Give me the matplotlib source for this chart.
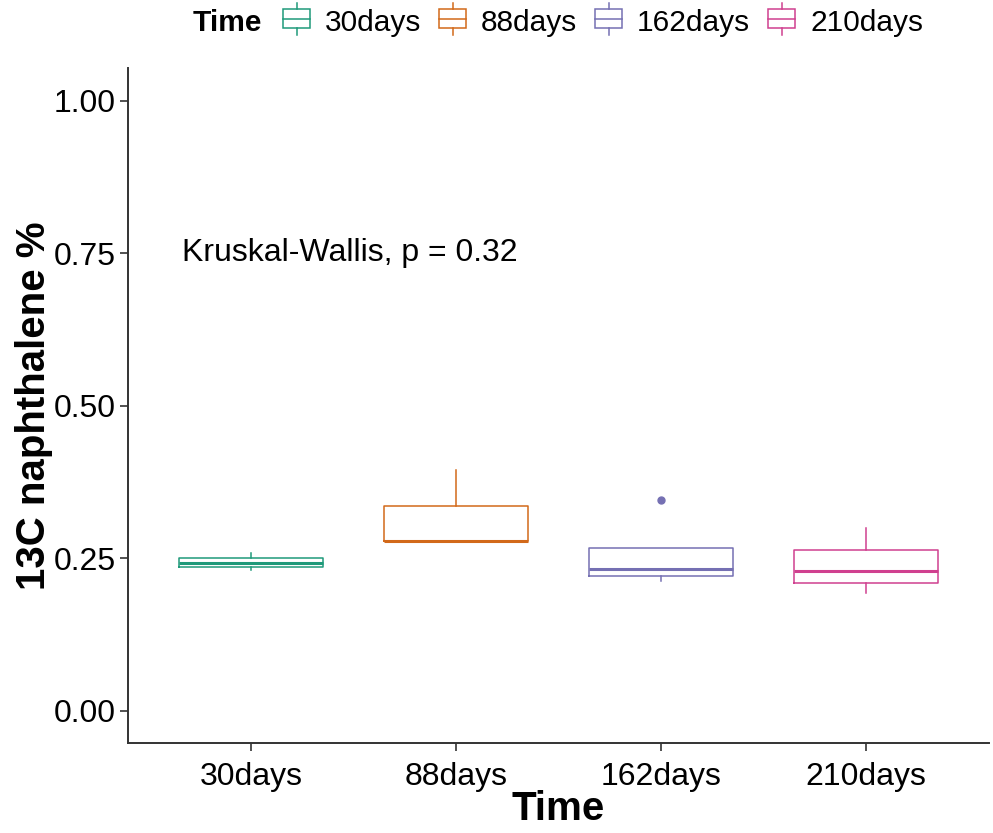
import matplotlib.pyplot as plt
from matplotlib.legend_handler import HandlerBase
from matplotlib.lines import Line2D
from matplotlib.offsetbox import HPacker
from matplotlib.patches import Rectangle

plt.rcParams["font.family"] = ["Liberation Sans", "DejaVu Sans"]

groups = ["30days", "88days", "162days", "210days"]
colors = ["#1F9A7A", "#D2691A", "#7570B3", "#D0408F"]
q1 = [0.235, 0.2785, 0.221, 0.209]
med = [0.2414, 0.2785, 0.232, 0.2295]
q3 = [0.2496, 0.3355, 0.266, 0.264]
whislo = [0.230, 0.2785, 0.213, 0.1925]
whishi = [0.259, 0.394, 0.266, 0.299]
fliers = [[], [], [0.345], []]
label_text = "Kruskal-Wallis, p = 0.32"


class BoxHandler(HandlerBase):
    def __init__(self, color):
        super().__init__()
        self.color = color

    def create_artists(self, legend, orig_handle, xdescent, ydescent,
                       width, height, fontsize, trans):
        w = width * 0.9
        x0 = xdescent + (width - w) / 2
        cx = x0 + w / 2
        by0, by1 = height * 0.12, height * 0.88
        rect = Rectangle((x0, by0), w, by1 - by0, fill=False,
                         edgecolor=self.color, lw=1.1, transform=trans)
        m = Line2D([x0, x0 + w], [height * 0.5] * 2, color=self.color,
                   lw=1.1, transform=trans)
        wt = Line2D([cx, cx], [by1, height * 1.15], color=self.color,
                    lw=1.1, transform=trans)
        wb = Line2D([cx, cx], [by0, -height * 0.15], color=self.color,
                    lw=1.1, transform=trans)
        return [rect, m, wt, wb]


fig = plt.figure(figsize=(9.93, 8.33), dpi=100)
ax = fig.add_axes([128 / 993, 90 / 833, 861 / 993, 675 / 833])

positions = list(range(1, len(groups) + 1))
for i, g in enumerate(groups):
    stats = [{
        "med": med[i], "q1": q1[i], "q3": q3[i],
        "whislo": whislo[i], "whishi": whishi[i], "fliers": fliers[i],
    }]
    c = colors[i]
    ax.bxp(
        stats, positions=[positions[i]], widths=0.7, showcaps=False,
        boxprops=dict(color=c, lw=1.1),
        whiskerprops=dict(color=c, lw=1.1),
        medianprops=dict(color=c, lw=2.2),
        flierprops=dict(marker="o", markerfacecolor=c, markeredgecolor=c,
                        markersize=5),
    )

ax.set_xlim(0.4, 4.6)
ax.set_ylim(-0.053, 1.054)
ax.set_xticks(positions)
ax.set_xticklabels(groups)
ax.set_yticks([0, 0.25, 0.5, 0.75, 1.0])
ax.set_yticklabels(["0.00", "0.25", "0.50", "0.75", "1.00"])
ax.tick_params(labelsize=23, length=6, width=1.2, color="#333333",
               labelcolor="black", pad=3)
ax.tick_params(axis="x", pad=8)
for s in ["top", "right"]:
    ax.spines[s].set_visible(False)
for s in ["left", "bottom"]:
    ax.spines[s].set_color("#333333")
    ax.spines[s].set_linewidth(1.4)

ax.set_xlabel("Time", fontsize=29, fontweight="bold", labelpad=-2)
ax.set_ylabel("13C naphthalene %", fontsize=29, fontweight="bold", labelpad=0.5)

ax.text(0.665, 0.75, label_text, fontsize=23, ha="left", va="center")

handles = [Rectangle((0, 0), 1, 1) for _ in groups]
leg = fig.legend(
    handles, groups, loc="upper center", bbox_to_anchor=(558 / 993, 1.022),
    ncol=5, frameon=False, fontsize=21.5, handlelength=1.0, handleheight=0.9,
    handletextpad=0.45, columnspacing=0.55,
    handler_map={h: BoxHandler(c) for h, c in zip(handles, colors)},
    title="Time", title_fontproperties={"weight": "bold", "size": 21.5},
)
# put legend title inline to the left of the entries
title_box = leg._legend_title_box
vbox = leg._legend_box
children = vbox.get_children()
new_box = HPacker(pad=0, sep=14, children=[title_box, children[1]], align="center")
vbox._children = [new_box]

fig.savefig("out.png", dpi=100)
